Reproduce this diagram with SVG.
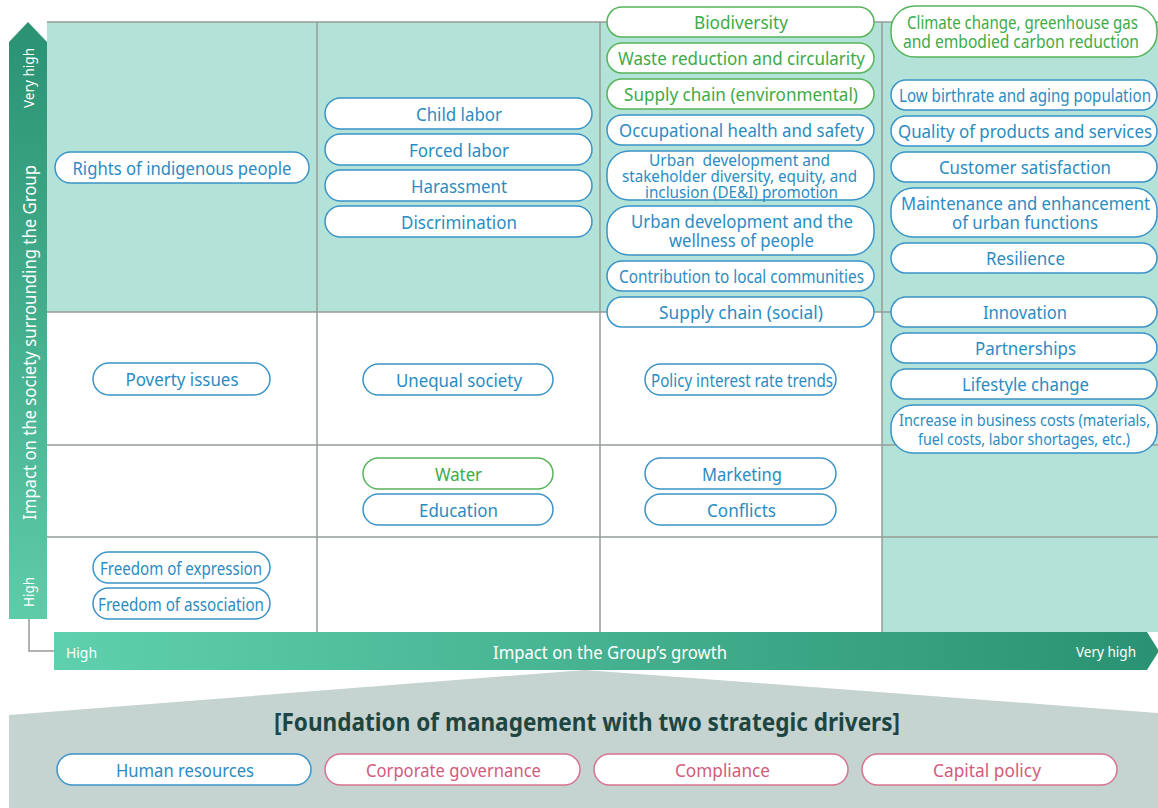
<svg xmlns="http://www.w3.org/2000/svg" width="1158" height="808" viewBox="0 0 1158 808">
<defs>
<linearGradient id="gv" x1="0" y1="0" x2="0" y2="1">
<stop offset="0" stop-color="#2a9272"/>
<stop offset="1" stop-color="#5ecba9"/>
</linearGradient>
<linearGradient id="gh" x1="0" y1="0" x2="1" y2="0">
<stop offset="0" stop-color="#5fd0ad"/>
<stop offset="1" stop-color="#2a9272"/>
</linearGradient>
<style>
text{font-family:"Noto Sans","Liberation Sans",sans-serif;font-size:17.5px;text-anchor:middle}
.pb{fill:#fff;stroke:#3a94c8;stroke-width:1.5}
.pg{fill:#fff;stroke:#56b45a;stroke-width:1.5}
.pp{fill:#fff;stroke:#d9728e;stroke-width:1.5}
.tb{fill:#2b8cc2}
.tg{fill:#3dab48}
.tp{fill:#d35c7c}
.s16{font-size:16px}
.s17{font-size:17px}
.ttl{font-size:25px;font-weight:bold;fill:#1f4541}
.grid{stroke:#959c96;stroke-width:1.5;fill:none}
.ax{fill:#fff;font-size:15px}
.axt{fill:#fff;font-size:17.5px}
</style>
</defs>

<!-- backgrounds -->
<rect x="47" y="22" width="1111" height="290" fill="#b3e3d8"/>
<rect x="882" y="312" width="276" height="320" fill="#b3e3d8"/>
<polygon points="9,715 585,670 1158,713 1158,808 9,808" fill="#c6d4d1"/>

<g id="grid" class="grid">
<line x1="47" y1="22" x2="1158" y2="22"/>
<line x1="317" y1="22" x2="317" y2="632"/>
<line x1="600" y1="22" x2="600" y2="632"/>
<line x1="882" y1="22" x2="882" y2="632"/>
<line x1="47" y1="312" x2="1158" y2="312"/>
<line x1="47" y1="445" x2="1158" y2="445"/>
<line x1="47" y1="537" x2="1158" y2="537"/>
</g>

<g id="connectors">
<polyline class="grid" points="29,619 29,651 54,651"/>
</g>

<g id="axis-y">
<polygon points="28,22 47,42 47,619 9,619 9,42" fill="url(#gv)"/>
<text class="ax" transform="translate(34,78) rotate(-90)" textLength="60" lengthAdjust="spacingAndGlyphs">Very high</text>
<text class="axt" transform="translate(36,342.5) rotate(-90)" textLength="355" lengthAdjust="spacingAndGlyphs">Impact on the society surrounding the Group</text>
<text class="ax" transform="translate(34,592) rotate(-90)" textLength="30" lengthAdjust="spacingAndGlyphs">High</text>
</g>

<g id="axis-x">
<polygon points="54,632 1147,632 1159,651 1147,670 54,670" fill="url(#gh)"/>
<text class="ax" x="81.5" y="658" textLength="31" lengthAdjust="spacingAndGlyphs">High</text>
<text class="axt" x="610" y="659" textLength="234" lengthAdjust="spacingAndGlyphs">Impact on the Group’s growth</text>
<text class="ax" x="1106" y="657" textLength="60" lengthAdjust="spacingAndGlyphs">Very high</text>
</g>

<!-- column 1 -->
<g id="n-rights"><rect class="pb" x="55" y="152" width="254" height="31" rx="15.5"/><text class="tb" x="182" y="175" textLength="219" lengthAdjust="spacingAndGlyphs">Rights of indigenous people</text></g>
<g id="n-poverty"><rect class="pb" x="93" y="363" width="177" height="32" rx="16"/><text class="tb" x="182" y="386" textLength="113" lengthAdjust="spacingAndGlyphs">Poverty issues</text></g>
<g id="n-expression"><rect class="pb" x="93" y="552" width="177" height="31" rx="15.5"/><text class="tb" x="181" y="575" textLength="162" lengthAdjust="spacingAndGlyphs">Freedom of expression</text></g>
<g id="n-association"><rect class="pb" x="93" y="588" width="177" height="31" rx="15.5"/><text class="tb" x="181" y="611" textLength="166" lengthAdjust="spacingAndGlyphs">Freedom of association</text></g>

<!-- column 2 -->
<g id="n-child"><rect class="pb" x="325" y="98" width="267" height="31" rx="15.5"/><text class="tb" x="459" y="121" textLength="86" lengthAdjust="spacingAndGlyphs">Child labor</text></g>
<g id="n-forced"><rect class="pb" x="325" y="134" width="267" height="31" rx="15.5"/><text class="tb" x="459" y="157" textLength="100" lengthAdjust="spacingAndGlyphs">Forced labor</text></g>
<g id="n-harassment"><rect class="pb" x="325" y="170" width="267" height="31" rx="15.5"/><text class="tb" x="459" y="193" textLength="96" lengthAdjust="spacingAndGlyphs">Harassment</text></g>
<g id="n-discrimination"><rect class="pb" x="325" y="206" width="267" height="31" rx="15.5"/><text class="tb" x="459" y="229" textLength="116" lengthAdjust="spacingAndGlyphs">Discrimination</text></g>
<g id="n-unequal"><rect class="pb" x="363" y="364" width="190" height="31" rx="15.5"/><text class="tb" x="459" y="387" textLength="126" lengthAdjust="spacingAndGlyphs">Unequal society</text></g>
<g id="n-water"><rect class="pg" x="363" y="458" width="190" height="31" rx="15.5"/><text class="tg" x="458.5" y="481" textLength="47" lengthAdjust="spacingAndGlyphs">Water</text></g>
<g id="n-education"><rect class="pb" x="363" y="494" width="190" height="31" rx="15.5"/><text class="tb" x="458.5" y="517" textLength="79" lengthAdjust="spacingAndGlyphs">Education</text></g>

<!-- column 3 -->
<g id="n-biodiversity"><rect class="pg" x="607" y="7" width="267" height="30" rx="15"/><text class="tg" x="741" y="29" textLength="94" lengthAdjust="spacingAndGlyphs">Biodiversity</text></g>
<g id="n-waste"><rect class="pg" x="607" y="43" width="267" height="30" rx="15"/><text class="tg" x="741.5" y="65" textLength="247" lengthAdjust="spacingAndGlyphs">Waste reduction and circularity</text></g>
<g id="n-supply-env"><rect class="pg" x="607" y="79" width="267" height="30" rx="15"/><text class="tg" x="741" y="101" textLength="234" lengthAdjust="spacingAndGlyphs">Supply chain (environmental)</text></g>
<g id="n-occupational"><rect class="pb" x="607" y="115" width="267" height="30" rx="15"/><text class="tb" x="741.5" y="137" textLength="245" lengthAdjust="spacingAndGlyphs">Occupational health and safety</text></g>
<g id="n-dei"><rect class="pb" x="607" y="151" width="267" height="49" rx="22"/>
<text class="tb s16" x="739.5" y="166" xml:space="preserve" textLength="181" lengthAdjust="spacingAndGlyphs">Urban  development and</text>
<text class="tb s16" x="739.5" y="182" textLength="235" lengthAdjust="spacingAndGlyphs">stakeholder diversity, equity, and</text>
<text class="tb s16" x="741.5" y="198" textLength="193" lengthAdjust="spacingAndGlyphs">inclusion (DE&amp;I) promotion</text></g>
<g id="n-wellness"><rect class="pb" x="607" y="206" width="267" height="49" rx="22"/>
<text class="tb" x="742" y="228" textLength="222" lengthAdjust="spacingAndGlyphs">Urban development and the</text>
<text class="tb" x="741.5" y="247" textLength="145" lengthAdjust="spacingAndGlyphs">wellness of people</text></g>
<g id="n-contribution"><rect class="pb" x="607" y="261" width="267" height="30" rx="15"/><text class="tb" x="741.5" y="283" textLength="245" lengthAdjust="spacingAndGlyphs">Contribution to local communities</text></g>
<g id="n-supply-social"><rect class="pb" x="607" y="297" width="267" height="30" rx="15"/><text class="tb" x="741" y="319" textLength="164" lengthAdjust="spacingAndGlyphs">Supply chain (social)</text></g>
<g id="n-policy"><rect class="pb" x="645" y="364" width="191" height="31" rx="15.5"/><text class="tb" x="742" y="387" textLength="182" lengthAdjust="spacingAndGlyphs">Policy interest rate trends</text></g>
<g id="n-marketing"><rect class="pb" x="645" y="458" width="191" height="31" rx="15.5"/><text class="tb" x="742" y="481" textLength="80" lengthAdjust="spacingAndGlyphs">Marketing</text></g>
<g id="n-conflicts"><rect class="pb" x="645" y="494" width="191" height="31" rx="15.5"/><text class="tb" x="741.5" y="517" textLength="69" lengthAdjust="spacingAndGlyphs">Conflicts</text></g>

<!-- column 4 -->
<g id="n-climate"><rect class="pg" x="891" y="6" width="266" height="51" rx="24"/>
<text class="tg" x="1022.5" y="29" textLength="231" lengthAdjust="spacingAndGlyphs">Climate change, greenhouse gas</text>
<text class="tg" x="1021" y="48" textLength="236" lengthAdjust="spacingAndGlyphs">and embodied carbon reduction</text></g>
<g id="n-birthrate"><rect class="pb" x="891" y="80" width="266" height="30" rx="15"/><text class="tb" x="1025" y="102" textLength="252" lengthAdjust="spacingAndGlyphs">Low birthrate and aging population</text></g>
<g id="n-quality"><rect class="pb" x="891" y="116" width="266" height="30" rx="15"/><text class="tb" x="1025" y="138" textLength="254" lengthAdjust="spacingAndGlyphs">Quality of products and services</text></g>
<g id="n-customer"><rect class="pb" x="891" y="152" width="266" height="30" rx="15"/><text class="tb" x="1025" y="174" textLength="172" lengthAdjust="spacingAndGlyphs">Customer satisfaction</text></g>
<g id="n-maintenance"><rect class="pb" x="891" y="188" width="266" height="49" rx="22"/>
<text class="tb" x="1025.5" y="210" textLength="249" lengthAdjust="spacingAndGlyphs">Maintenance and enhancement</text>
<text class="tb" x="1025" y="229" textLength="146" lengthAdjust="spacingAndGlyphs">of urban functions</text></g>
<g id="n-resilience"><rect class="pb" x="891" y="243" width="266" height="30" rx="15"/><text class="tb" x="1025.5" y="265" textLength="79" lengthAdjust="spacingAndGlyphs">Resilience</text></g>
<g id="n-innovation"><rect class="pb" x="891" y="297" width="266" height="30" rx="15"/><text class="tb" x="1025" y="319" textLength="84" lengthAdjust="spacingAndGlyphs">Innovation</text></g>
<g id="n-partnerships"><rect class="pb" x="891" y="333" width="266" height="30" rx="15"/><text class="tb" x="1025.5" y="355" textLength="101" lengthAdjust="spacingAndGlyphs">Partnerships</text></g>
<g id="n-lifestyle"><rect class="pb" x="891" y="369" width="266" height="30" rx="15"/><text class="tb" x="1025.5" y="391" textLength="127" lengthAdjust="spacingAndGlyphs">Lifestyle change</text></g>
<g id="n-costs"><rect class="pb" x="891" y="405" width="266" height="48" rx="22"/>
<text class="tb s17" x="1024.5" y="426" textLength="251" lengthAdjust="spacingAndGlyphs">Increase in business costs (materials,</text>
<text class="tb s17" x="1024" y="445" textLength="212" lengthAdjust="spacingAndGlyphs">fuel costs, labor shortages, etc.)</text></g>

<!-- foundation -->
<g id="foundation-title"><text class="ttl" x="587" y="731" textLength="626" lengthAdjust="spacingAndGlyphs">[Foundation of management with two strategic drivers]</text></g>
<g id="n-human"><rect class="pb" x="57" y="754" width="254" height="31" rx="15.5"/><text class="tb" x="185" y="777" textLength="138" lengthAdjust="spacingAndGlyphs">Human resources</text></g>
<g id="n-governance"><rect class="pp" x="325" y="754" width="255" height="31" rx="15.5"/><text class="tp" x="453.5" y="777" textLength="175" lengthAdjust="spacingAndGlyphs">Corporate governance</text></g>
<g id="n-compliance"><rect class="pp" x="594" y="754" width="254" height="31" rx="15.5"/><text class="tp" x="722.5" y="777" textLength="95" lengthAdjust="spacingAndGlyphs">Compliance</text></g>
<g id="n-capital"><rect class="pp" x="862" y="754" width="255" height="31" rx="15.5"/><text class="tp" x="987" y="777" textLength="108" lengthAdjust="spacingAndGlyphs">Capital policy</text></g>
</svg>
